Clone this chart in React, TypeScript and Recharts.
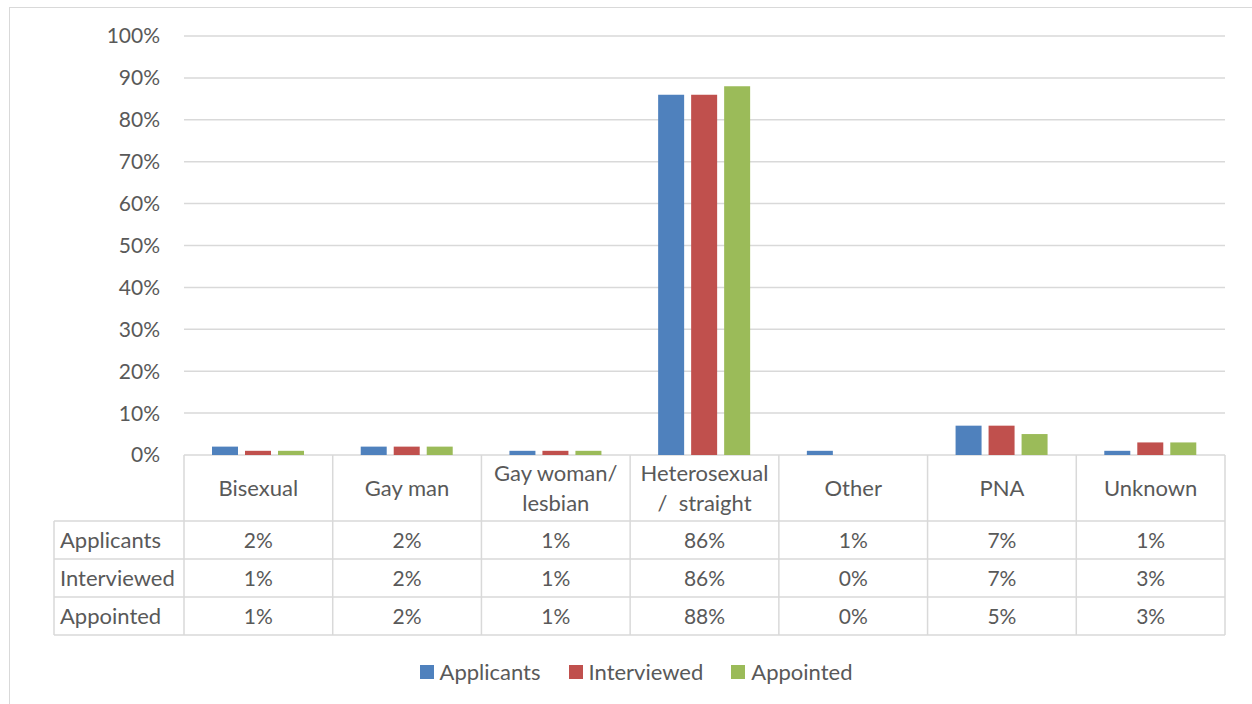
import React from 'react';
import {
  BarChart, Bar, XAxis, YAxis, CartesianGrid, Legend
} from 'recharts';

const categories = [
  'Bisexual',
  'Gay man',
  'Gay woman/\nlesbian',
  'Heterosexual\n/  straight',
  'Other',
  'PNA',
  'Unknown',
];
const applicants = [2, 2, 1, 86, 1, 7, 1];
const interviewed = [1, 2, 1, 86, 0, 7, 3];
const appointed = [1, 2, 1, 88, 0, 5, 3];
const yTicks = [0, 10, 20, 30, 40, 50, 60, 70, 80, 90, 100];

const series = [
  { key: 'Applicants', values: applicants, color: '#4f81bd' },
  { key: 'Interviewed', values: interviewed, color: '#c0504d' },
  { key: 'Appointed', values: appointed, color: '#9bbb59' },
];

const data = categories.map((name, i) => {
  const row: Record<string, string | number> = { name };
  series.forEach(s => { row[s.key] = s.values[i]; });
  return row;
});

const W = 1252;
const H = 704;
const PLOT_LEFT = 184;
const PLOT_RIGHT = 1225;
const PLOT_TOP = 36;
const PLOT_BOTTOM = 455;
const BAND = (PLOT_RIGHT - PLOT_LEFT) / categories.length;
const HEADER_H = 66;
const ROW_H = 38;
const TABLE_LEFT = 54;
const TEXT = '#595959';
const LINE = '#d9d9d9';
const NUM_FONT = 21;
const WORD_FONT = 22;

const TableTick = (props: any) => {
  const { x, y, payload, index } = props;
  const lines: string[] = String(payload.value).split('\n');
  const half = BAND / 2;
  const bottom = y + HEADER_H + ROW_H * series.length;
  const headMid = y + HEADER_H / 2 - 1;
  return (
    <g>
      {index === 0 && (
        <line x1={x - half} x2={x - half} y1={y} y2={bottom} stroke={LINE} strokeWidth={1.5} />
      )}
      <line x1={x + half} x2={x + half} y1={y} y2={bottom} stroke={LINE} strokeWidth={1.5} />
      {lines.map((l, i) => (
        <text
          key={i}
          x={x}
          y={headMid + (i - (lines.length - 1) / 2) * 30}
          textAnchor="middle"
          dominantBaseline="central"
          fill={TEXT}
          fontSize={WORD_FONT}
          style={{ whiteSpace: 'pre' }}
        >
          {l}
        </text>
      ))}
      {series.map((s, r) => (
        <text
          key={s.key}
          x={x}
          y={y + HEADER_H + ROW_H * r + ROW_H / 2 - 1}
          textAnchor="middle"
          dominantBaseline="central"
          fill={TEXT}
          fontSize={NUM_FONT}
        >
          {s.values[index]}%
        </text>
      ))}
    </g>
  );
};

const renderLegend = () => (
  <div style={{ display: 'flex', justifyContent: 'center', paddingLeft: 20 }}>
    {series.map((s, i) => (
      <div
        key={s.key}
        style={{ display: 'flex', alignItems: 'center', marginRight: i < series.length - 1 ? 28 : 0 }}
      >
        <span style={{ width: 14, height: 14, background: s.color, marginRight: 6, display: 'inline-block' }} />
        <span style={{ color: TEXT, fontSize: WORD_FONT }}>{s.key}</span>
      </div>
    ))}
  </div>
);

const App: React.FC = () => {
  const tableTop = PLOT_BOTTOM + HEADER_H;
  return (
    <div
      style={{
        position: 'absolute', left: 0, top: 0, width: W, height: H,
        background: '#fff', overflow: 'hidden', fontFamily: 'Lato, sans-serif',
      }}
    >
      <div
        style={{
          position: 'absolute', left: 9, top: 7, width: W, height: H,
          border: `1.5px solid ${LINE}`,
        }}
      />
      <BarChart
        width={W}
        height={H}
        data={data}
        margin={{ top: PLOT_TOP, right: W - PLOT_RIGHT, left: 0, bottom: 0 }}
        barSize={26}
        barGap={7}
      >
        <CartesianGrid vertical={false} stroke={LINE} strokeWidth={1.5} />
        <YAxis
          width={PLOT_LEFT}
          domain={[0, 100]}
          ticks={yTicks}
          tickFormatter={(v: number) => `${v}%`}
          axisLine={false}
          tickLine={false}
          tickSize={0}
          tickMargin={24}
          tick={{ fill: TEXT, fontSize: NUM_FONT }}
        />
        <XAxis
          dataKey="name"
          height={H - PLOT_BOTTOM}
          axisLine={false}
          tickLine={false}
          tickSize={0}
          tickMargin={0}
          interval={0}
          tick={(p: any) => <TableTick {...p} />}
        />
        {series.map(s => (
          <Bar key={s.key} dataKey={s.key} fill={s.color} isAnimationActive={false} />
        ))}
        <Legend
          verticalAlign="middle"
          align="center"
          content={renderLegend}
          wrapperStyle={{ position: 'absolute', top: 658, left: 0, width: W }}
        />
      </BarChart>
      <svg
        width={W}
        height={H}
        style={{ position: 'absolute', left: 0, top: 0, pointerEvents: 'none' }}
      >
        <line x1={TABLE_LEFT} x2={TABLE_LEFT} y1={tableTop} y2={tableTop + ROW_H * series.length} stroke={LINE} strokeWidth={1.5} />
        {[0, 1, 2, 3].map(r => (
          <line key={r} x1={TABLE_LEFT} x2={PLOT_RIGHT} y1={tableTop + ROW_H * r} y2={tableTop + ROW_H * r} stroke={LINE} strokeWidth={1.5} />
        ))}
        {series.map((s, r) => (
          <text
            key={s.key}
            x={TABLE_LEFT + 6}
            y={tableTop + ROW_H * r + ROW_H / 2 - 1}
            dominantBaseline="central"
            fill={TEXT}
            fontSize={WORD_FONT}
          >
            {s.key}
          </text>
        ))}
      </svg>
    </div>
  );
};

export default App;
